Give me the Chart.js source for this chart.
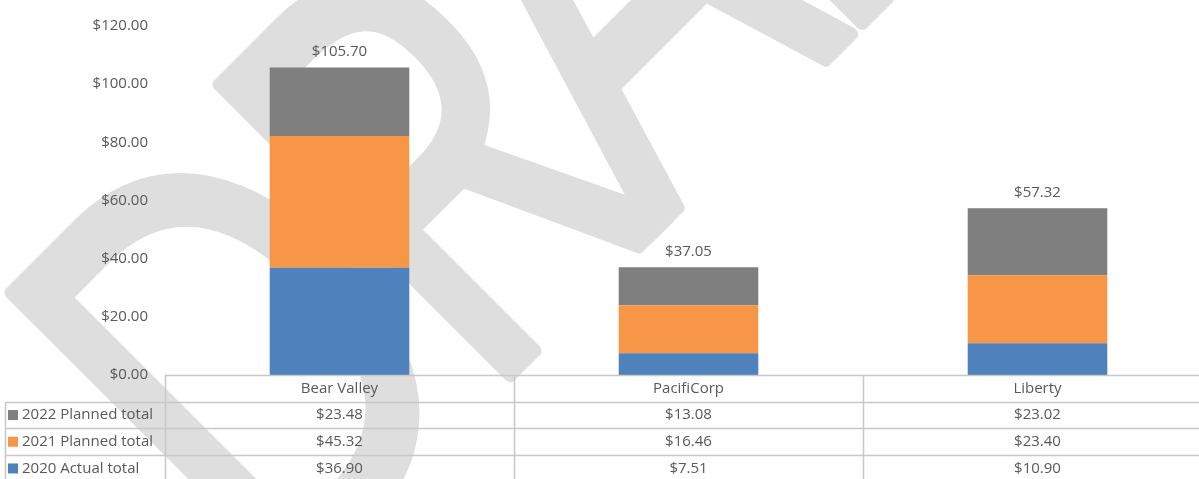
<!DOCTYPE html>
<html>
<head>
<meta charset="utf-8">
<script src="https://cdn.jsdelivr.net/npm/chart.js@4"></script>
<style>
  html, body { margin: 0; padding: 0; overflow: hidden; background: #fff; }
  .chart { width: 1212px; height: 479px; position: relative; }
</style>
</head>
<body>
<div class="chart"><canvas></canvas></div>
<script>
const categories = ['Bear Valley', 'PacifiCorp', 'Liberty']
const seriesNames = ['2020 Actual total', '2021 Planned total', '2022 Planned total']
const actual2020 = [36.90, 7.51, 10.90]
const planned2021 = [45.32, 16.46, 23.40]
const planned2022 = [23.48, 13.08, 23.02]
const yTicks = [0, 20, 40, 60, 80, 100, 120]

const colors = ['#4f81bd', '#f79646', '#7f7f7f']
const textColor = '#595959'
const lineColor = '#c8c8c8'

const money = v => '$' + v.toFixed(2)

Chart.defaults.font.family = '"Open Sans", sans-serif'
Chart.defaults.font.size = 15
Chart.defaults.color = textColor

const canvas = document.querySelector('.chart canvas')
const canvasCtx = canvas.getContext('2d')

// big light "DRAFT" behind everything
const watermark = {
    id: 'watermark',
    beforeDraw(chart) {
        const ctx = chart.ctx
        ctx.save()
        ctx.translate(270, 615)
        ctx.rotate(-45 * Math.PI / 180)
        ctx.scale(0.78, 1)
        ctx.font = '575px "Open Sans"'
        ctx.letterSpacing = '-40px'
        ctx.fillStyle = '#dedede'
        ctx.strokeStyle = '#dedede'
        ctx.lineWidth = 14
        ctx.lineJoin = 'round'
        ctx.textBaseline = 'alphabetic'
        ctx.textAlign = 'left'
        ctx.fillText('DRAFT', 0, 0)
        ctx.strokeText('DRAFT', 0, 0)
        ctx.restore()
    }
}

// totals above each stack
const totals = {
    id: 'totals',
    afterDatasetsDraw(chart) {
        const ctx = chart.ctx
        const top = chart.getDatasetMeta(chart.data.datasets.length - 1)
        ctx.save()
        ctx.font = '15px "Open Sans"'
        ctx.fillStyle = textColor
        ctx.textAlign = 'center'
        ctx.textBaseline = 'middle'
        categories.forEach((c, i) => {
            const sum = actual2020[i] + planned2021[i] + planned2022[i]
            const bar = top.data[i]
            ctx.fillText(money(sum), bar.x, bar.y - 16)
        })
        ctx.restore()
    }
}

// data table under the plot
const dataTable = {
    id: 'dataTable',
    afterDraw(chart) {
        const ctx = chart.ctx
        const area = chart.chartArea
        const x = chart.scales.x
        const rowH = 26.7
        const y0 = area.bottom
        const keyLeft = 5
        const right = chart.width
        const rows = [
            [seriesNames[2], colors[2], planned2022],
            [seriesNames[1], colors[1], planned2021],
            [seriesNames[0], colors[0], actual2020]
        ]
        ctx.save()
        ctx.strokeStyle = lineColor
        ctx.lineWidth = 1.5
        ctx.beginPath()
        ctx.moveTo(area.left, y0 + 0.5)
        ctx.lineTo(right, y0 + 0.5)
        for (let r = 1; r <= 3; r++) {
            const y = Math.round(y0 + r * rowH) + 0.5
            ctx.moveTo(keyLeft, y)
            ctx.lineTo(right, y)
        }
        ctx.moveTo(keyLeft + 0.5, y0 + rowH)
        ctx.lineTo(keyLeft + 0.5, chart.height)
        for (let i = 0; i <= categories.length; i++) {
            const xx = Math.round(area.left + i * (area.right - area.left) / categories.length) + 0.5
            ctx.moveTo(xx, y0)
            ctx.lineTo(xx, chart.height)
        }
        ctx.stroke()

        ctx.font = '15px "Open Sans"'
        ctx.fillStyle = textColor
        ctx.textBaseline = 'middle'
        ctx.textAlign = 'center'
        categories.forEach((c, i) => {
            ctx.fillText(c, x.getPixelForValue(i), y0 + rowH / 2)
        })
        rows.forEach((row, r) => {
            const cy = y0 + (r + 1.5) * rowH
            ctx.fillStyle = row[1]
            ctx.fillRect(8, cy - 5, 10, 10)
            ctx.fillStyle = textColor
            ctx.textAlign = 'left'
            ctx.fillText(row[0], 22, cy)
            ctx.textAlign = 'center'
            row[2].forEach((v, i) => ctx.fillText(money(v), x.getPixelForValue(i), cy))
        })
        ctx.restore()
    }
}

const myChart = new Chart(canvasCtx, {
    type: 'bar',
    data: {
        labels: categories,
        datasets: [
            { label: seriesNames[0], data: actual2020, backgroundColor: colors[0] },
            { label: seriesNames[1], data: planned2021, backgroundColor: colors[1] },
            { label: seriesNames[2], data: planned2022, backgroundColor: colors[2] }
        ]
    },
    options: {
        responsive: true,
        maintainAspectRatio: false,
        animation: false,
        layout: { padding: { top: 22, bottom: 104, left: 0, right: 0 } },
        datasets: { bar: { categoryPercentage: 1, barPercentage: 0.4 } },
        plugins: {
            legend: { display: false },
            tooltip: { enabled: false }
        },
        scales: {
            x: {
                display: false,
                stacked: true
            },
            y: {
                stacked: true,
                min: 0,
                max: 120,
                afterFit(scale) { scale.width = 165 },
                afterBuildTicks(scale) { scale.ticks = yTicks.map(v => ({ value: v })) },
                grid: { display: false, drawTicks: false },
                border: { display: false },
                ticks: {
                    padding: 17,
                    color: textColor,
                    callback: v => money(v)
                }
            }
        }
    },
    plugins: [watermark, totals, dataTable]
})
</script>
</body>
</html>
